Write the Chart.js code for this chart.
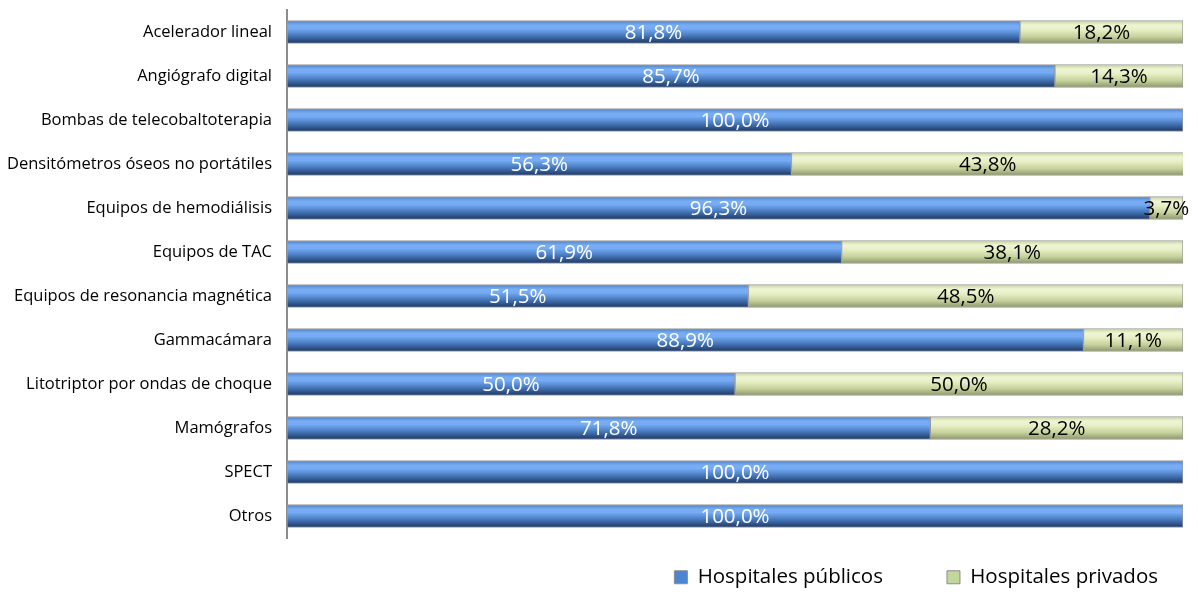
<!DOCTYPE html>
<html>
<head>
<meta charset="utf-8">
<script src="https://cdn.jsdelivr.net/npm/chart.js@4"></script>
<style>
  body { margin: 0; background: #fff; }
  #wrap { width: 1198px; height: 592px; }
</style>
</head>
<body>
<div id="wrap"><canvas id="myChart" width="1198" height="592"></canvas></div>
<script>
const categories = [
  'Acelerador lineal',
  'Angiógrafo digital',
  'Bombas de telecobaltoterapia',
  'Densitómetros óseos no portátiles',
  'Equipos de hemodiálisis',
  'Equipos de TAC',
  'Equipos de resonancia magnética',
  'Gammacámara',
  'Litotriptor por ondas de choque',
  'Mamógrafos',
  'SPECT',
  'Otros'
];
const publicos = [81.8, 85.7, 100, 56.3, 96.3, 61.9, 51.5, 88.9, 50.0, 71.8, 100, 100];
const privados = [18.2, 14.3, 0, 43.8, 3.7, 38.1, 48.5, 11.1, 50.0, 28.2, 0, 0];
const seriesNames = ['Hospitales públicos', 'Hospitales privados'];

const BAR_H = 23;
const FONT = '"Open Sans", Lato, sans-serif';

// vertical gradient across each bar, built from the bar's band position
function barGradient(stops, fallback) {
  return function (ctx) {
    const chart = ctx.chart;
    const y = chart.scales && chart.scales.y;
    if (!y || ctx.dataIndex === undefined) return fallback;
    const cy = y.getPixelForValue(ctx.dataIndex);
    if (!isFinite(cy)) return fallback;
    const g = chart.ctx.createLinearGradient(0, cy - BAR_H / 2, 0, cy + BAR_H / 2);
    stops.forEach(s => g.addColorStop(s[0], s[1]));
    return g;
  };
}

const blueStops = [[0, '#4f7fc2'], [0.2, '#78adf5'], [0.35, '#76acf4'], [0.6, '#4f82c8'], [0.85, '#2f5389'], [1, '#1d3560']];
const greenStops = [[0, '#c4d09e'], [0.2, '#eff5d4'], [0.4, '#e8efc6'], [0.7, '#c6d19c'], [1, '#8a956a']];

const valueLabels = {
  id: 'valueLabels',
  afterDatasetsDraw(chart) {
    const c = chart.ctx;
    c.save();
    c.font = '20.5px ' + FONT;
    c.textAlign = 'center';
    c.textBaseline = 'middle';
    chart.data.datasets.forEach((ds, di) => {
      const meta = chart.getDatasetMeta(di);
      meta.data.forEach((bar, i) => {
        const v = ds.data[i];
        if (!v) return;
        const x = (bar.x + bar.base) / 2;
        c.fillStyle = di === 0 ? '#ffffff' : '#000000';
        c.fillText(v.toFixed(1).replace('.', ',') + '%', x, bar.y + 1);
      });
    });
    c.restore();
  }
};

// legend: fixed height so the plot ends where the reference does,
// and drawn a bit up/right because the item gap is wide
const LEGEND_DX = 39, LEGEND_DY = -35;
const legendFix = {
  id: 'legendFix',
  beforeUpdate(chart) {
    const lg = chart.legend;
    if (lg && !lg._fixed) {
      const fit = lg.fit;
      lg.fit = function () { fit.call(this); this.height = 54; };
      const draw = lg.draw;
      lg.draw = function () {
        const t = this.top, r = this.right;
        this.top = t + LEGEND_DY;
        this.right = r + LEGEND_DX;
        draw.call(this);
        this.top = t;
        this.right = r;
      };
      lg._fixed = true;
    }
  }
};

const data = {
  labels: categories,
  datasets: [
    {
      label: seriesNames[0],
      data: publicos,
      backgroundColor: barGradient(blueStops, '#4a86d4'),
      borderColor: '#9a9a9a',
      borderWidth: 1,
      borderSkipped: false,
      barThickness: BAR_H
    },
    {
      label: seriesNames[1],
      data: privados,
      backgroundColor: barGradient(greenStops, '#c3d69b'),
      borderColor: '#9a9a9a',
      borderWidth: 1,
      borderSkipped: false,
      barThickness: BAR_H
    }
  ]
};

const legendFills = ['#4a86d4', '#c3d69b'];

const config = {
  type: 'bar',
  data: data,
  plugins: [valueLabels, legendFix],
  options: {
    indexAxis: 'y',
    responsive: false,
    animation: false,
    layout: { padding: { top: 10, right: 15, bottom: 0, left: 0 } },
    scales: {
      x: {
        stacked: true,
        min: 0,
        max: 100,
        display: false
      },
      y: {
        stacked: true,
        grid: { display: false, drawTicks: false },
        border: { display: true, color: '#8c8c8c', width: 2 },
        ticks: {
          color: '#000',
          padding: 15,
          font: { family: FONT, size: 16.5 }
        },
        afterFit(scale) {
          scale.width = 287;
          scale.paddingTop = 0;
          scale.paddingBottom = 0;
        }
      }
    },
    plugins: {
      tooltip: { enabled: false },
      legend: {
        position: 'bottom',
        align: 'end',
        labels: {
          boxWidth: 13,
          boxHeight: 13,
          padding: 64,
          color: '#000',
          font: { family: FONT, size: 20.5 },
          generateLabels(chart) {
            return chart.data.datasets.map((ds, i) => ({
              text: ds.label,
              fillStyle: legendFills[i],
              strokeStyle: '#8c8c8c',
              lineWidth: 1,
              fontColor: '#000',
              datasetIndex: i,
              hidden: false
            }));
          }
        }
      }
    }
  }
};

const myChart = new Chart(document.getElementById('myChart'), config);
</script>
</body>
</html>
